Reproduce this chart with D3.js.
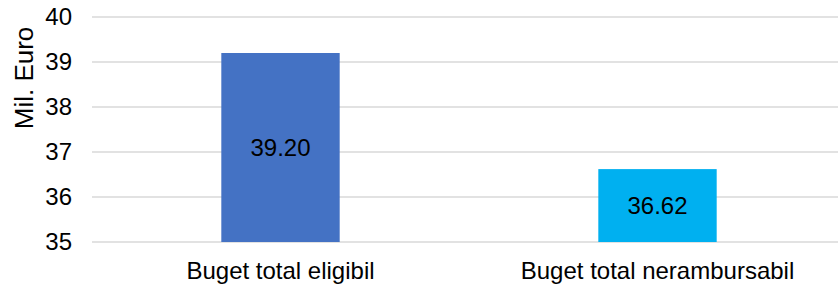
<!DOCTYPE html>
<html>
<head>
<meta charset="utf-8">
<script src="https://cdn.jsdelivr.net/npm/d3@7"></script>
<style>
  html, body { margin: 0; padding: 0; background: #fff; }
  svg { display: block; font-family: "Liberation Sans", Arial, sans-serif; }
</style>
</head>
<body>
<div id="chart"></div>
<script>
const categories = ['Buget total eligibil', 'Buget total nerambursabil'];
const values = [39.20, 36.62];
const barColors = ['#4472c4', '#00b0f0'];
const yTicks = [35, 36, 37, 38, 39, 40];

const W = 838, H = 286;
const margin = { top: 17, right: -8, bottom: 44, left: 92 };
const width = W - margin.left - margin.right;
const height = H - margin.top - margin.bottom;
const fontFam = '"Liberation Sans", Arial, sans-serif';

const svg = d3.select('#chart').append('svg')
  .attr('width', W)
  .attr('height', H);

const g = svg.append('g')
  .attr('transform', 'translate(' + margin.left + ',' + margin.top + ')');

const x = d3.scaleBand().domain(categories).range([0, width]).paddingInner(0.686).paddingOuter(0.343);
const y = d3.scaleLinear().domain([35, 40]).range([height, 0]);

// gridlines
g.selectAll('.grid')
  .data(yTicks)
  .enter().append('line')
  .attr('x1', 0)
  .attr('x2', width)
  .attr('y1', d => y(d))
  .attr('y2', d => y(d))
  .attr('stroke', '#d9d9d9')
  .attr('stroke-width', 1.3);

// y axis labels
const yAxis = d3.axisLeft(y).tickValues(yTicks).tickFormat(d3.format('d')).tickSize(0).tickPadding(20);
g.append('g')
  .call(yAxis)
  .attr('font-size', 24)
  .attr('font-family', fontFam)
  .call(s => s.select('.domain').remove())
  .selectAll('text')
  .attr('fill', '#000');

// bars
g.selectAll('.bar')
  .data(values)
  .enter().append('rect')
  .attr('x', (d, i) => x(categories[i]))
  .attr('y', d => y(d))
  .attr('width', x.bandwidth())
  .attr('height', d => height - y(d))
  .attr('fill', (d, i) => barColors[i]);

// value labels
g.selectAll('.val')
  .data(values)
  .enter().append('text')
  .attr('x', (d, i) => x(categories[i]) + x.bandwidth() / 2)
  .attr('y', d => (y(d) + height) / 2)
  .attr('dy', '0.35em')
  .attr('text-anchor', 'middle')
  .attr('font-size', 24)
  .attr('fill', '#000')
  .text(d => d.toFixed(2));

// x axis labels
const xAxis = d3.axisBottom(x).tickSize(0).tickPadding(20);
g.append('g')
  .attr('transform', 'translate(0,' + height + ')')
  .call(xAxis)
  .attr('font-size', 24)
  .attr('font-family', fontFam)
  .call(s => s.select('.domain').remove())
  .selectAll('text')
  .attr('fill', '#000');

// y axis title
svg.append('text')
  .attr('transform', 'translate(33,78) rotate(-90)')
  .attr('text-anchor', 'middle')
  .attr('font-size', 26)
  .attr('fill', '#000')
  .text('Mil. Euro');
</script>
</body>
</html>
